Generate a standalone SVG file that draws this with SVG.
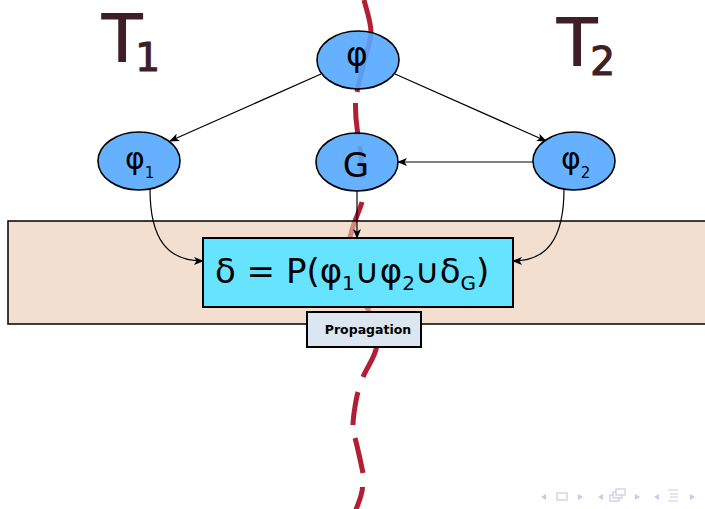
<svg xmlns="http://www.w3.org/2000/svg" width="705" height="509" viewBox="0 0 705 509">
<style>
.node{fill:#55a9ff;fill-opacity:0.9;stroke:#000;stroke-width:1.6}
.lbl{font-family:"DejaVu Sans",sans-serif;fill:#000}
.conn{fill:none;stroke:#000;stroke-width:1.2}
.big{font-family:"DejaVu Sans",sans-serif;fill:#3f1f25;stroke:#3f1f25;stroke-width:1.2}
.nav{fill:#c9c9ea}
</style>
<defs>
<marker id="ah" markerUnits="userSpaceOnUse" markerWidth="10" markerHeight="8" refX="9" refY="4" orient="auto">
<path d="M0,0 L10,4 L0,8 L2.5,4 z" fill="#000"/>
</marker>
</defs>
<rect width="705" height="509" fill="#fff"/>
<g id="border-line">
<path fill="none" stroke="#b21f35" stroke-width="5" d="M364,0 C365.2,5.3 371,21.7 371,32 C371,42.3 366.3,52 364,62 C361.7,72 358.5,83.7 357,92 M355.5,103 C355.2,119.2 356.8,126.2 358,135 M359.5,146 C361.3,154.5 362,165 362.5,178 M362,202 C360.3,208.8 354.5,220.5 352,230 C349.5,239.5 346.8,246.2 347,255 C347.2,263.8 349.7,274.3 353,283 C356.3,291.7 363.3,299.2 367,307 C370.7,314.8 373.2,323.2 375,330 M377,345 C376,355.8 366.8,367.5 363,377 M358,392 C356.7,396.5 353.3,413.5 353,425 M355,438 C356.3,442.7 359.7,457.3 363,473 M362.5,487 C362.5,494 359.7,500 355,512"/>
</g>
<g id="band">
<rect x="8" y="221" width="700" height="103" fill="#e9caaf" fill-opacity="0.6" stroke="#000" stroke-width="1.5"/>
</g>
<g id="T1"><text class="big" x="102" y="62" font-size="66">T<tspan font-size="39" dx="-7" dy="9">1</tspan></text></g>
<g id="T2"><text class="big" x="557" y="66" font-size="66">T<tspan font-size="39" dx="-7" dy="9">2</tspan></text></g>
<g id="connectors">
<line class="conn" x1="321" y1="74" x2="170" y2="141" marker-end="url(#ah)"/>
<line class="conn" x1="395" y1="74" x2="546" y2="141" marker-end="url(#ah)"/>
<line class="conn" x1="533" y1="162" x2="398" y2="162" marker-end="url(#ah)"/>
<line class="conn" x1="357" y1="191" x2="357" y2="238" marker-end="url(#ah)"/>
<path class="conn" d="M150,189 C150,240 168,261 203,261" marker-end="url(#ah)"/>
<path class="conn" d="M564,189 C564,240 546,261 513,261" marker-end="url(#ah)"/>
</g>
<g id="node-phi"><ellipse class="node" cx="358" cy="60" rx="41" ry="29"/><text class="lbl" x="357" y="66" font-size="33" text-anchor="middle">φ</text></g>
<g id="node-phi1"><ellipse class="node" cx="139" cy="161" rx="41" ry="29"/><text class="lbl" x="125" y="169" font-size="30">φ<tspan font-size="15" dy="9">1</tspan></text></g>
<g id="node-G"><ellipse class="node" cx="357" cy="162" rx="41" ry="29"/><text class="lbl" x="356" y="177" font-size="34" text-anchor="middle">G</text></g>
<g id="node-phi2"><ellipse class="node" cx="574" cy="161" rx="41" ry="29"/><text class="lbl" x="561" y="169" font-size="30">φ<tspan font-size="15" dy="9">2</tspan></text></g>
<g id="node-formula"><rect x="203" y="238" width="310" height="69" fill="#66e3ff" stroke="#000" stroke-width="2"/><text class="lbl" x="215" y="283" font-size="34">δ = P(φ<tspan dy="7" font-size="20">1</tspan><tspan dy="-7">∪φ</tspan><tspan dy="7" font-size="20">2</tspan><tspan dy="-7">∪δ</tspan><tspan dy="7" font-size="20">G</tspan><tspan dy="-7">)</tspan></text></g>
<g id="node-propagation"><rect x="307" y="312" width="114" height="35" fill="#dce6f0" stroke="#000" stroke-width="2"/><text class="lbl" x="368" y="334" font-size="12.5" font-weight="bold" text-anchor="middle">Propagation</text></g>
<g id="nav">
<path class="nav" d="M546,494 L541,497 L546,500 z"/>
<rect x="557" y="493" width="10" height="7" fill="none" stroke="#c9c9ea" stroke-width="1.2"/>
<path class="nav" d="M578,494 L583,497 L578,500 z"/>
<path class="nav" d="M603,494 L598,497 L603,500 z"/>
<rect x="610" y="495" width="9" height="6" fill="none" stroke="#c9c9ea" stroke-width="1.2"/>
<rect x="613" y="492" width="9" height="6" fill="#fff" stroke="#c9c9ea" stroke-width="1.2"/>
<rect x="616" y="489" width="9" height="6" fill="#fff" stroke="#c9c9ea" stroke-width="1.2"/>
<path class="nav" d="M635,494 L640,497 L635,500 z"/>
<path class="nav" d="M659,494 L654,497 L659,500 z"/>
<path d="M668,490 H678 M670,494 H678 M670,497 H678 M668,501 H678" stroke="#c9c9ea" stroke-width="1.2"/>
<path class="nav" d="M690,494 L695,497 L690,500 z"/>
</g>
</svg>
